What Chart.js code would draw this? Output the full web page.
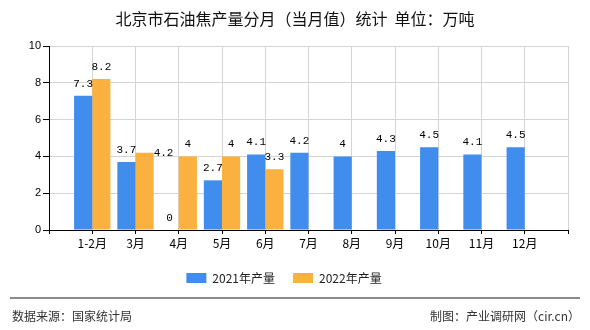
<!DOCTYPE html>
<html><head><meta charset="utf-8">
<script src="https://cdn.jsdelivr.net/npm/chart.js@4/dist/chart.umd.min.js"></script>
<style>
html,body{margin:0;padding:0;background:#fff}
body{width:590px;height:330px;position:relative;overflow:hidden;font-family:"Noto Sans CJK SC",sans-serif}
#c{position:absolute;left:0;top:0;width:590px;height:330px}
#title{position:absolute;top:7px;left:0;width:590px;text-align:center;font-size:16px;line-height:22px;color:#111}
#rule{position:absolute;left:10px;top:297px;width:570px;height:0;border-top:2px solid #8a8a8a}
.foot{position:absolute;top:307px;font-size:12px;line-height:18px;color:#333}
#fl{left:12px}
#fr{right:10px}
</style></head>
<body>
<canvas id="c" width="590" height="330"></canvas>
<div id="title">北京市石油焦产量分月（当月值）统计&nbsp;&nbsp;单位：万吨</div>
<div id="rule"></div>
<div class="foot" id="fl">数据来源：国家统计局</div>
<div class="foot" id="fr">制图：产业调研网（cir.cn）</div>
<script>
// ---- data ----
const categories = ['1-2月','3月','4月','5月','6月','7月','8月','9月','10月','11月','12月'];
const series2021 = [7.3, 3.7, 0, 2.7, 4.1, 4.2, 4, 4.3, 4.5, 4.1, 4.5];
const series2022 = [8.2, 4.2, 4, 4, 3.3];
const seriesNames = ['2021年产量', '2022年产量'];
const yTicks = [0, 2, 4, 6, 8, 10];

// ---- styles ----
const colors = ['#418DEE', '#FBB13F'];
const labelRight2022 = [false, true, false, false, false];

const labels = [''].concat(categories, ['']);
const pad = (arr) => {
  const out = [null];
  for (let i = 0; i < categories.length; i++) out.push(i < arr.length ? arr[i] : null);
  out.push(null);
  return out;
};
const labelRight = [[], [false].concat(labelRight2022)];

const valueLabels = {
  id: 'valueLabels',
  afterDatasetsDraw(chart) {
    const ctx = chart.ctx;
    ctx.save();
    ctx.font = '11px "Liberation Mono", monospace';
    ctx.fillStyle = '#000';
    chart.data.datasets.forEach((ds, di) => {
      const meta = chart.getDatasetMeta(di);
      meta.data.forEach((el, i) => {
        const v = ds.data[i];
        if (v === null || v === undefined) return;
        const txt = String(v);
        if (labelRight[di] && labelRight[di][i]) {
          ctx.textAlign = 'left';
          ctx.textBaseline = 'middle';
          ctx.fillText(txt, el.x + el.width / 2, el.y);
        } else {
          ctx.textAlign = 'center';
          ctx.textBaseline = 'middle';
          ctx.fillText(txt, el.x, el.y - 12);
        }
      });
    });
    ctx.restore();
  }
};

new Chart(document.getElementById('c'), {
  type: 'bar',
  data: {
    labels: labels,
    datasets: [
      { label: seriesNames[0], data: pad(series2021), backgroundColor: colors[0] },
      { label: seriesNames[1], data: pad(series2022), backgroundColor: colors[1] }
    ]
  },
  options: {
    responsive: false,
    animation: false,
    devicePixelRatio: 1,
    layout: { padding: { top: 46, right: 22, left: 0, bottom: 36 } },
    datasets: { bar: { barPercentage: 1, categoryPercentage: 0.84 } },
    plugins: {
      title: { display: false },
      tooltip: { enabled: false },
      legend: {
        display: true,
        position: 'bottom',
        labels: {
          boxWidth: 20, boxHeight: 10, padding: 18, color: '#222',
          font: { family: '"Noto Sans CJK SC", sans-serif', size: 12 }
        }
      }
    },
    scales: {
      x: {
        type: 'category',
        offset: false,
        grid: { color: '#d4d4d4', tickColor: '#000', tickLength: 4, offset: false, drawOnChartArea: true },
        border: { display: true, color: '#000', width: 1 },
        ticks: {
          autoSkip: false, maxRotation: 0, padding: 2, color: '#000',
          font: { family: '"Noto Sans CJK SC", sans-serif', size: 12 }
        },
        afterFit(s) { s.height = 24; }
      },
      y: {
        min: 0, max: 10,
        afterBuildTicks(s) { s.ticks = yTicks.map(v => ({ value: v })); },
        grid: { color: '#d4d4d4', tickColor: '#000', tickLength: 6 },
        border: { display: true, color: '#000', width: 1 },
        ticks: { padding: 2, color: '#000', font: { family: '"Liberation Sans", sans-serif', size: 11 } },
        afterFit(s) { s.width = 49; }
      }
    }
  },
  plugins: [valueLabels]
});
</script>
</body></html>
